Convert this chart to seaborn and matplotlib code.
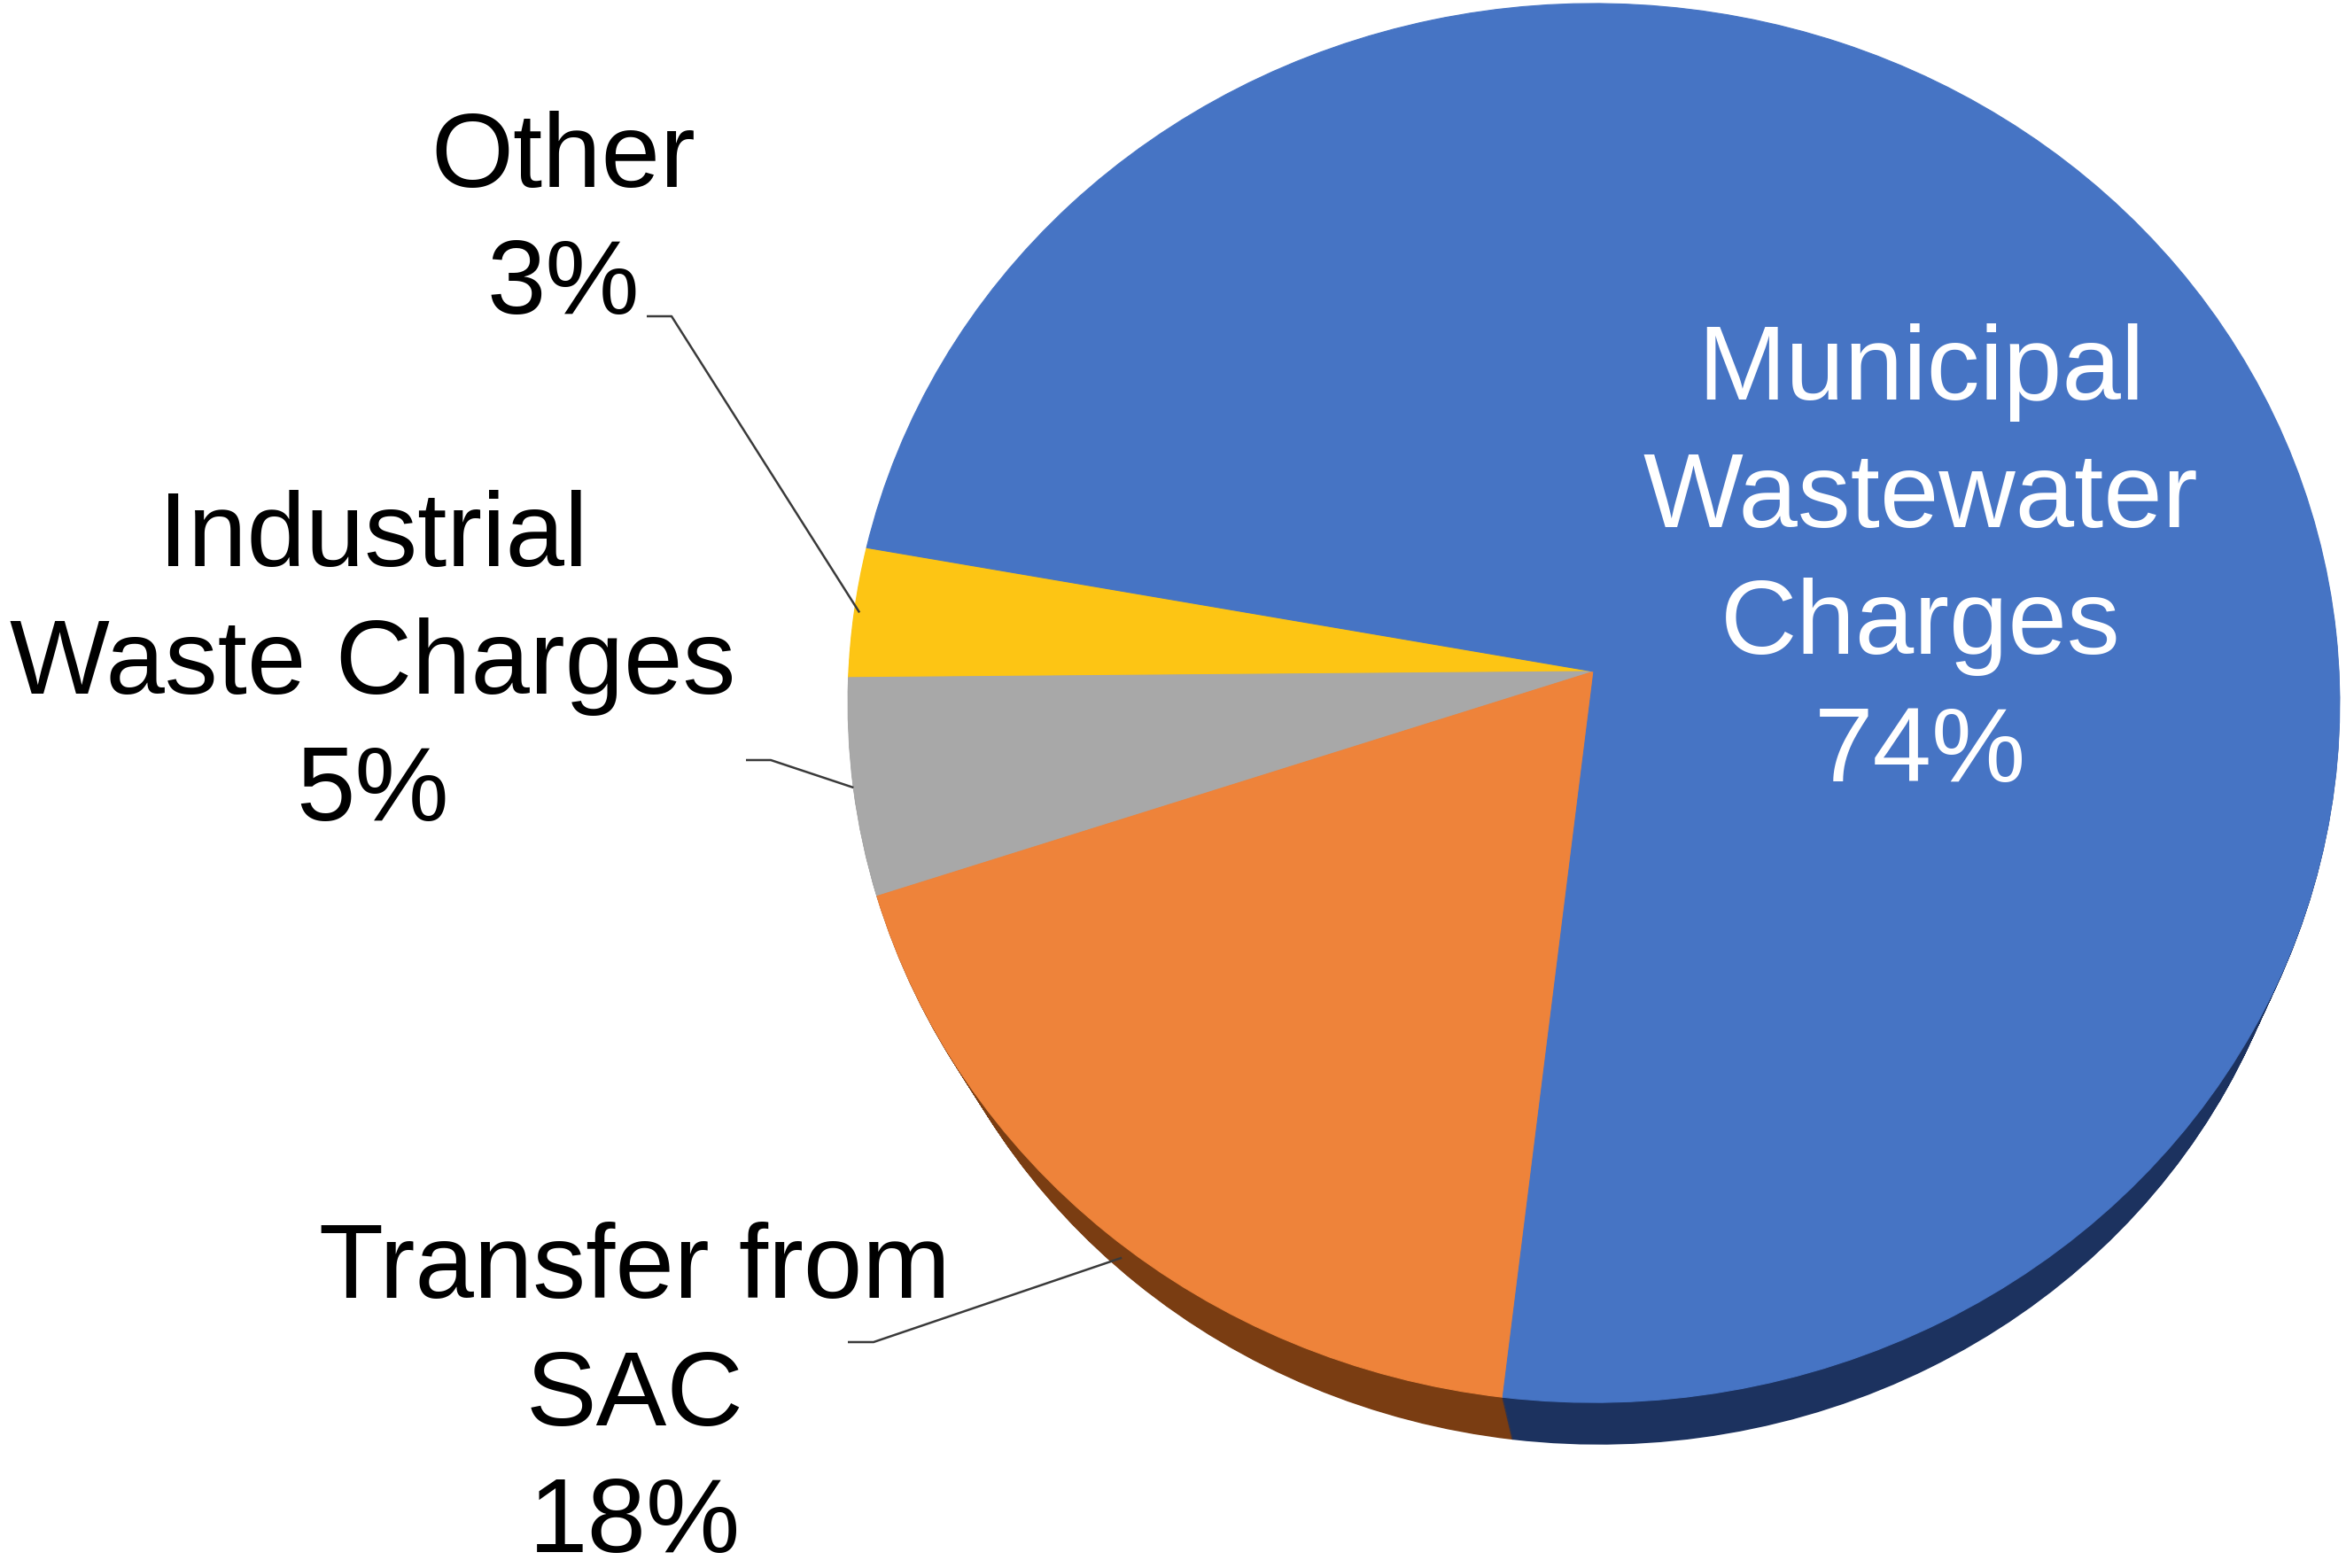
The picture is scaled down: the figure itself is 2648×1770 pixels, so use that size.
import numpy as np
import matplotlib
matplotlib.use("Agg")
import matplotlib.pyplot as plt
import matplotlib.transforms as mtransforms
import seaborn as sns

# ---------------- data ----------------
categories = ["Other", "Industrial Waste Charges", "Transfer from SAC", "Municipal Wastewater Charges"]
label_lines = [["Other"], ["Industrial", "Waste Charges"], ["Transfer from", "SAC"],
               ["Municipal", "Wastewater", "Charges"]]
shares = [3, 5, 18, 74]
top_colors = ["#FDC514", "#A8A8A8", "#EE833A", "#4674C4"]
rim_colors = ["#8A6A05", "#5E5E5E", "#7A3D12", "#1C325F"]
text_colors = ["black", "black", "black", "white"]

# ---------------- style ----------------
sns.set_theme(style="white")
plt.rcParams["font.family"] = ["Liberation Sans", "DejaVu Sans"]

W, H = 2648, 1770
fig = plt.figure(figsize=(W / 100, H / 100), dpi=100)
ax = fig.add_axes([0, 0, 1, 1])


class PieProjection(mtransforms.Transform):
    """Perspective projection of a unit pie onto the page (pixel data coords)."""
    input_dims = 2
    output_dims = 2
    is_separable = False
    has_inverse = False

    def __init__(self, cx, cy, rx, ry, k):
        super().__init__()
        self.cx, self.cy, self.rx, self.ry, self.k = cx, cy, rx, ry, k

    def transform_non_affine(self, xy):
        xy = np.asarray(xy, dtype=float).reshape(-1, 2)
        u, v = xy[:, 0], xy[:, 1]
        d = 1.0 + self.k * v
        return np.column_stack([self.cx + self.rx * u / d, self.cy + self.ry * v / d])


# geometry of the top surface (pixel units, y up)
CX, CY = 1799.0, H - 758.0
RX, RY, K = 841.0, 788.0, 0.045
# extrusion (bottom face): shift and shrink
DX, DY, SHRINK = 6.0, 88.0, 0.05
START = 169.7


def projection(frac):
    s = 1.0 - SHRINK * frac
    return PieProjection(CX + DX * frac, CY - DY * frac, RX * s, RY * s, K)


# side (rim) of the 3-D pie: stacked copies from the bottom face upwards
N = 60
for i in range(N, 0, -1):
    frac = i / N
    wedges, _ = ax.pie(shares, startangle=START, counterclock=True, colors=rim_colors,
                       radius=1.0, center=(0, 0), wedgeprops=dict(linewidth=1.2))
    tr = projection(frac) + ax.transData
    for w in wedges:
        w.set_edgecolor(w.get_facecolor())
        w.set_transform(tr)

# top surface
top_proj = projection(0.0)
wedges, _ = ax.pie(shares, startangle=START, counterclock=True, colors=top_colors,
                   radius=1.0, center=(0, 0), wedgeprops=dict(linewidth=0.8))
for w in wedges:
    w.set_edgecolor(w.get_facecolor())
    w.set_transform(top_proj + ax.transData)

ax.set_xlim(0, W)
ax.set_ylim(0, H)
ax.set_aspect("auto")
ax.set_axis_off()

# ---------------- labels ----------------
FS = 86
label_pos = [(636, H - 252), (421, H - 752), (716, H - 1578), (2168, H - 636)]
for lines, sh, pos, col in zip(label_lines, shares, label_pos, text_colors):
    ax.text(pos[0], pos[1], "\n".join(lines + [f"{sh}%"]), ha="center", va="center",
            fontsize=FS, color=col, linespacing=1.38)

# leader lines: from label to the slice (anchor from wedge mid-angle)
leader_start = {0: ((730, H - 357), (758, H - 357), 0.993, 0.0),
                1: ((842, H - 858), (870, H - 858), 1.0, 0.0),
                2: ((957, H - 1515), (986, H - 1515), 1.0, 0.5)}
for idx, (p0, p1, r, depth) in leader_start.items():
    w = wedges[idx]
    mid = np.deg2rad((w.theta1 + w.theta2) / 2)
    anchor = projection(depth).transform_non_affine([[r * np.cos(mid), r * np.sin(mid)]])[0]
    ax.plot([p0[0], p1[0], anchor[0]], [p0[1], p1[1], anchor[1]],
            color="#3A3A3A", linewidth=1.8, solid_capstyle="butt", zorder=5)

fig.savefig("out.png", dpi=100, facecolor="white")
